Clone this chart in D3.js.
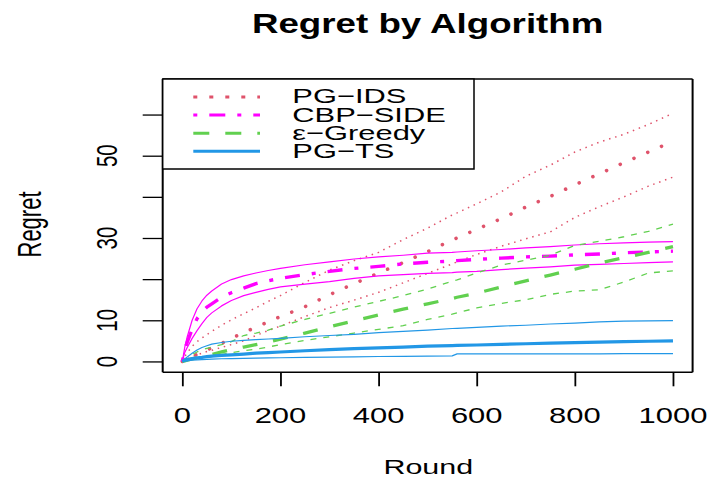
<!DOCTYPE html>
<html><head><meta charset="utf-8">
<script src="https://cdn.jsdelivr.net/npm/d3@7"></script>
<style>body{margin:0;background:#fff}svg{display:block}</style>
</head><body><svg id="c" width="712" height="478"></svg>
<script>
// ---- data ----
const rounds = [0,5,10,20,30,40,50,60,80,100,125,150,175,200,250,300,350,400,450,500,550,560,600,650,700,750,800,850,900,950,1000];

const pgIdsMean  = [0,0.3,0.6,1.2,1.7,2.3,2.8,3.3,4.4,5.6,7.0,8.3,9.6,10.9,13.3,16.2,18.9,21.5,24.0,26.7,29.5,30.0,32.1,34.7,37.5,40.1,42.9,45.6,48.3,50.9,53.5];
const pgIdsUpper = [0,1.2,2.1,3.7,4.8,5.7,6.5,7.3,8.8,10.1,11.6,13.0,14.6,16.0,19.2,22.2,24.5,26.5,29.6,32.4,35.6,36.1,38.3,41.2,45.0,47.7,50.9,53.3,55.2,57.6,60.3];
const pgIdsLower = [0,0.3,0.6,1.2,1.6,2.0,2.4,2.7,3.4,4.1,5.0,6.3,7.5,8.6,10.9,13.1,14.9,16.8,19.1,21.4,23.7,24.2,26.0,28.0,29.8,31.5,35.0,37.6,40.0,42.6,44.8];

const cbpMean  = [0,2.9,4.7,7.8,10.4,12.0,13.2,14.0,15.6,16.7,17.8,18.9,19.6,20.2,21.1,21.9,22.6,23.1,23.7,24.1,24.4,24.5,24.8,25.1,25.4,25.6,25.9,26.1,26.4,26.6,26.8];
const cbpUpper = [0,3.5,6.0,10.0,12.8,14.7,16.1,17.1,18.8,19.9,20.8,21.5,22.1,22.6,23.5,24.2,24.9,25.4,25.8,26.3,26.5,26.6,26.9,27.2,27.6,27.9,28.3,28.6,28.8,29.0,29.1];
const cbpLower = [0,2.2,3.4,5.6,7.5,9.2,10.7,11.8,13.5,14.8,16.0,16.8,17.5,18.1,18.8,19.4,20.2,20.8,21.1,21.4,21.6,21.7,21.9,22.3,22.7,23.0,23.4,23.6,23.8,24.0,24.2];

const greedyMean  = [0,0.15,0.3,0.6,0.85,1.1,1.4,1.7,2.3,2.9,3.5,4.1,4.7,5.4,6.9,8.4,9.9,11.3,12.7,14.0,15.3,15.6,16.6,18.1,19.6,21.0,22.4,23.9,25.2,26.5,27.9];
const greedyUpper = [0,0.5,0.9,1.7,2.3,2.8,3.2,3.5,4.1,4.8,6.3,6.9,7.6,8.6,10.2,11.7,13.2,14.6,16.0,17.6,19.5,19.8,21.5,23.4,24.6,25.8,28.2,29.2,30.3,31.6,33.4];
const greedyLower = [0,0.1,0.2,0.4,0.6,0.8,1.0,1.2,1.7,2.1,2.6,3.0,3.5,4.1,5.1,6.0,6.9,7.8,8.7,10.2,11.5,11.8,13.0,14.1,15.0,16.3,17.1,17.4,19.3,21.5,22.0];

const pgTsMean  = [0,0.3,0.45,0.7,0.9,1.0,1.15,1.3,1.45,1.6,1.8,2.0,2.15,2.3,2.6,2.85,3.1,3.3,3.5,3.7,3.85,3.9,4.0,4.15,4.3,4.45,4.55,4.7,4.8,4.9,5.0];
const pgTsUpper = [0,0.6,1.1,2.0,2.8,3.4,3.8,4.2,4.6,4.9,5.1,5.3,5.45,5.6,6.0,6.3,6.6,7.0,7.3,7.6,8.0,8.05,8.3,8.6,8.8,9.1,9.3,9.6,9.8,9.85,9.9];
const pgTsLower = [0,0.1,0.15,0.3,0.4,0.45,0.5,0.55,0.65,0.7,0.75,0.8,0.85,0.9,1.0,1.05,1.1,1.2,1.25,1.3,1.35,1.85,1.85,1.85,1.85,1.85,1.85,1.85,1.9,1.9,1.9];

const seriesNames  = ["PG\u2212IDS","CBP\u2212SIDE","\u03b5\u2212Greedy","PG\u2212TS"];
const seriesColors = ["#DF536B","#FF00FF","#61D04F","#2297E6"];
const xTicks = [0,200,400,600,800,1000];
const xTickLabels = ["0","200","400","600","800","1000"];
const yTicks = [0,10,20,30,40,50,60];
const yTickLabels = ["0","10","","30","","50",""];
const titleText = "Regret by Algorithm";
const xLabel = "Round";
const yLabel = "Regret";

// ---- drawing ----
const svg = d3.select("#c");
const FONT = "'Liberation Sans', Arial, Helvetica, sans-serif";
const L = 162.7, R = 692.6, T = 79, B = 372.3;
const x = d3.scaleLinear().domain([-40,1040]).range([L,R]);
const y = d3.scaleLinear().domain([-2.64,68.64]).range([B,T]);

function txt(px, py, s, size, sx, rot, weight){
  return svg.append("text")
    .attr("transform", `translate(${px},${py}) scale(${sx},1)` + (rot ? " rotate(-90)" : ""))
    .attr("text-anchor","middle")
    .attr("font-family", FONT)
    .attr("font-size", size)
    .attr("font-weight", weight || "normal")
    .attr("fill","#000")
    .text(s);
}

const styles = {
  mean: [
    {w:3.6, dash:"0.01 15", cap:"round"},
    {w:3.4, dash:"4 12 15 12", cap:"butt"},
    {w:3.3, dash:"15 16", cap:"butt"},
    {w:3.2, dash:null, cap:"butt"}
  ],
  band: [
    {w:1.5, dash:"1.5 4.8", cap:"butt"},
    {w:1.2, dash:null, cap:"butt"},
    {w:1.3, dash:"6 7", cap:"butt"},
    {w:1.2, dash:null, cap:"butt"}
  ]
};

const seriesData = [
  [pgIdsMean, pgIdsUpper, pgIdsLower],
  [cbpMean, cbpUpper, cbpLower],
  [greedyMean, greedyUpper, greedyLower],
  [pgTsMean, pgTsUpper, pgTsLower]
];

svg.append("clipPath").attr("id","clip").append("rect")
  .attr("x",L).attr("y",T).attr("width",R-L).attr("height",B-T);

const line = d3.line().x(d=>x(d[0])).y(d=>y(d[1]));
const plotG = svg.append("g").attr("clip-path","url(#clip)");

seriesData.forEach((arrs,i)=>{
  [arrs[1],arrs[2],arrs[0]].forEach((vals,k)=>{
    const st = k===2 ? styles.mean[i] : styles.band[i];
    plotG.append("path")
      .datum(rounds.map((r,j)=>[r,vals[j]]))
      .attr("d",line)
      .attr("fill","none")
      .attr("stroke",seriesColors[i])
      .attr("stroke-width",st.w)
      .attr("stroke-linecap",st.cap)
      .attr("stroke-linejoin","round")
      .attr("stroke-dasharray",st.dash);
  });
});

// axes (ticks only)
const xAxis = svg.append("g").attr("transform",`translate(0,${B})`)
  .call(d3.axisBottom(x).tickValues(xTicks).tickSize(14).tickSizeOuter(0).tickFormat(""));
xAxis.select(".domain").remove();
xAxis.selectAll("line").attr("stroke","#000").attr("stroke-width",1.8);

const yAxis = svg.append("g").attr("transform",`translate(${L},0)`)
  .call(d3.axisLeft(y).tickValues(yTicks).tickSize(20).tickSizeOuter(0).tickFormat(""));
yAxis.select(".domain").remove();
yAxis.selectAll("line").attr("stroke","#000").attr("stroke-width",1.3);

xTicks.forEach((t,i)=> txt(x(t), 422.7, xTickLabels[i], 21.2, 1.46));
yTicks.forEach((t,i)=> { if (yTickLabels[i]) txt(116.7, y(t), yTickLabels[i], 20.5, 1.48, true); });

// box
svg.append("line").attr("x1",L).attr("x2",L).attr("y1",T).attr("y2",B).attr("stroke","#000").attr("stroke-width",2);
svg.append("line").attr("x1",R).attr("x2",R).attr("y1",T).attr("y2",B).attr("stroke","#000").attr("stroke-width",2);
svg.append("line").attr("x1",L).attr("x2",R).attr("y1",T).attr("y2",T).attr("stroke","#000").attr("stroke-width",1.4);
svg.append("line").attr("x1",L).attr("x2",R).attr("y1",B).attr("y2",B).attr("stroke","#000").attr("stroke-width",1.4);

// legend
const lgW = 311.3, lgH = 90;
svg.append("rect").attr("x",L).attr("y",T).attr("width",lgW).attr("height",lgH)
  .attr("fill","#fff").attr("stroke","#000").attr("stroke-width",1.5);
const legendDash = ["4 12","4 12 16 12","16 16",null];
seriesNames.forEach((n,i)=>{
  const ly = 97 + i*18.1;
  svg.append("line").attr("x1",193.3).attr("x2",260).attr("y1",ly).attr("y2",ly)
    .attr("stroke",seriesColors[i]).attr("stroke-width",3)
    .attr("stroke-dasharray",legendDash[i]);
  svg.append("text")
    .attr("transform",`translate(292.3,${ly+6.4}) scale(1.47,1)`)
    .attr("font-family",FONT).attr("font-size",21).attr("fill","#000")
    .text(n);
});

// titles
txt((L+R)/2, 32.6, titleText, 27, 1.36, false, "bold");
txt(428.3, 473.6, xLabel, 21, 1.45);
txt(40.5, 224.5, yLabel, 22, 1.47, true);
</script>
</body></html>
